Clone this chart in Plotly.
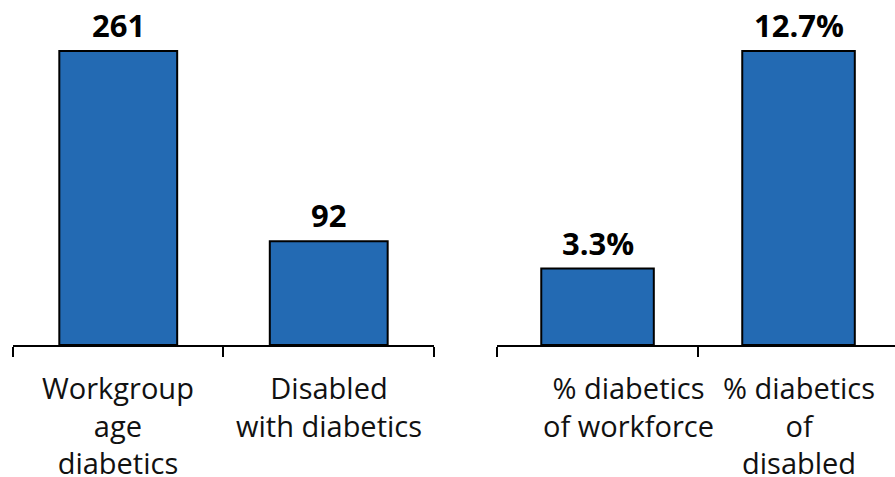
import plotly.graph_objects as go

# Left panel: counts
count_labels = ["Workgroup<br>age<br>diabetics", "Disabled<br>with diabetics"]
count_values = [261, 92]
count_text = ["261", "92"]

# Right panel: percentages
pct_labels = ["% diabetics<br>of workforce", "% diabetics<br>of<br>disabled"]
pct_values = [3.3, 12.7]
pct_text = ["3.3%", "12.7%"]

BLUE = "#236AB3"
FONT = "Open Sans"

fig = go.Figure()

fig.add_trace(go.Bar(x=[0, 1], y=count_values, width=0.56,
                     marker=dict(color=BLUE, line=dict(color="black", width=2)),
                     xaxis="x", yaxis="y", hoverinfo="skip"))
fig.add_trace(go.Bar(x=[0, 1], y=pct_values, width=0.56,
                     marker=dict(color=BLUE, line=dict(color="black", width=2)),
                     xaxis="x2", yaxis="y2", hoverinfo="skip"))

annotations = []
# value labels above bars
for xr, yr, vals, txt in [("x", "y", count_values, count_text),
                          ("x2", "y2", pct_values, pct_text)]:
    for i, (v, t) in enumerate(zip(vals, txt)):
        annotations.append(dict(x=i, y=v, xref=xr, yref=yr, text="<b>" + t + "</b>",
                                showarrow=False, yanchor="bottom", yshift=3,
                                font=dict(size=31, color="black", family=FONT)))

# category labels under the axes
label_shift = [0, 0, 31, 0]
for k, (xr, yr, labs) in enumerate([("x", "y", count_labels), ("x2", "y2", pct_labels)]):
    for i, lab in enumerate(labs):
        annotations.append(dict(x=i, y=0, xref=xr, yref=yr, text=lab,
                                showarrow=False, yanchor="top", yshift=-21,
                                xshift=label_shift[k * 2 + i], align="center",
                                font=dict(size=29, color="#111111", family=FONT)))

axis_common = dict(showgrid=False, zeroline=False,
                   showline=True, linecolor="black", linewidth=2,
                   ticks="outside", ticklen=10, tickwidth=2, tickcolor="black",
                   tickvals=[-0.5, 0.5, 1.5], showticklabels=False, fixedrange=True)

fig.update_layout(
    width=895, height=477,
    margin=dict(l=13, r=0, t=20, b=132),
    paper_bgcolor="white", plot_bgcolor="white",
    showlegend=False,
    xaxis=dict(domain=[0, 0.4773], range=[-0.5, 1.5], **axis_common),
    xaxis2=dict(domain=[0.5488, 1.0], range=[-0.5, 1.48], **axis_common),
    yaxis=dict(range=[0, 288.5], visible=False, fixedrange=True),
    yaxis2=dict(range=[0, 14.04], visible=False, anchor="x2", fixedrange=True),
    annotations=annotations,
)

# drop the default page margin so the chart fills the window
fig.write_html("out.html", config={"displayModeBar": False},
               post_script="document.body.style.margin='0';")
